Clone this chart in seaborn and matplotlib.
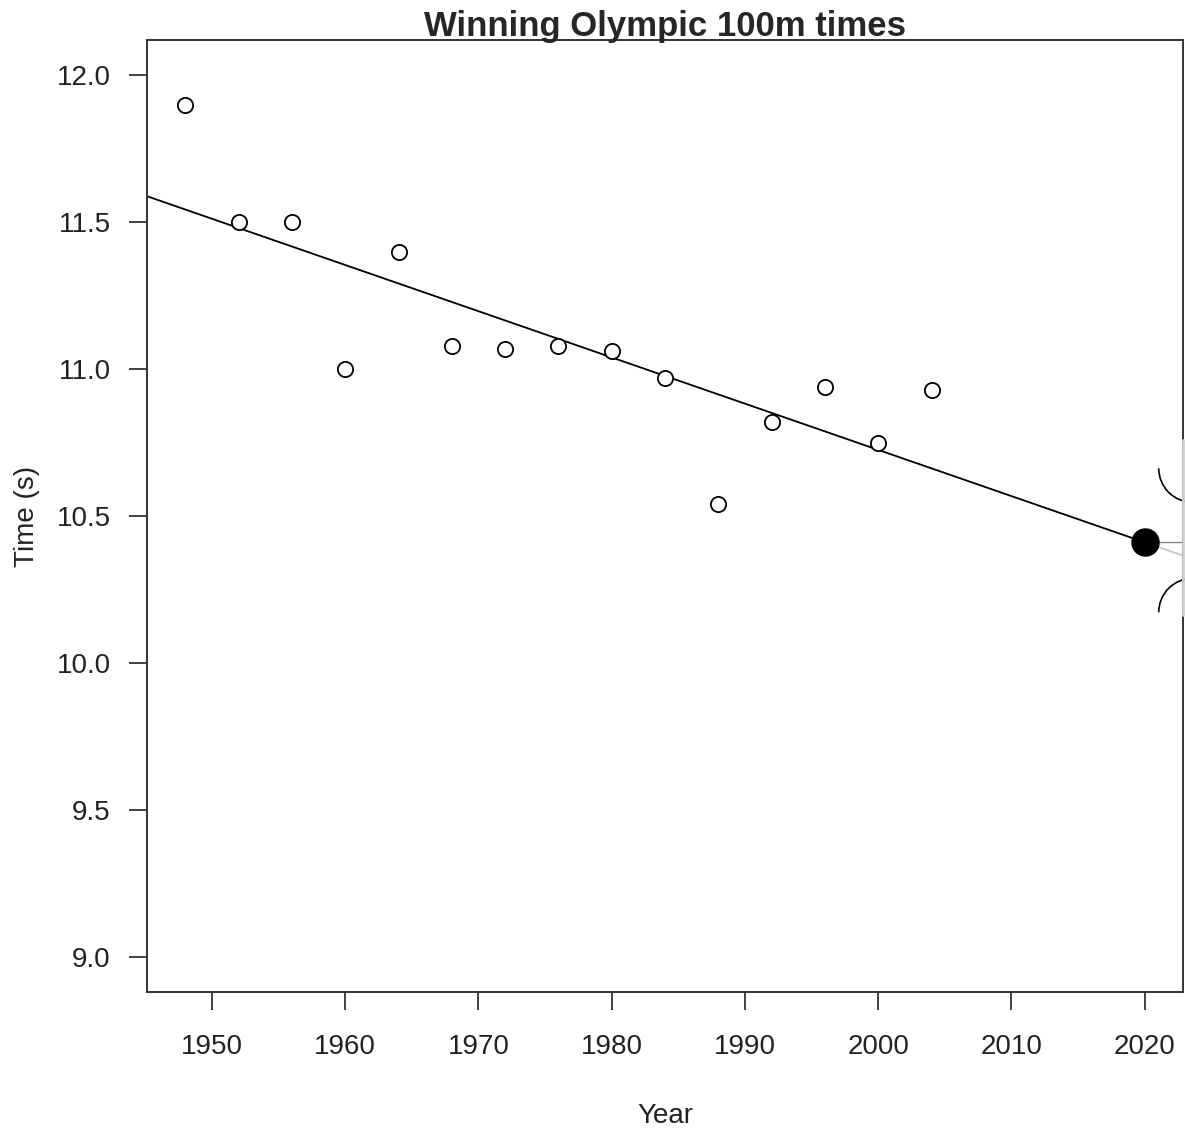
import numpy as np
import pandas as pd
import matplotlib
matplotlib.use('Agg')
import matplotlib.pyplot as plt
from matplotlib.patches import Arc
from matplotlib.transforms import IdentityTransform
import seaborn as sns

# winning times
years = [1948, 1952, 1956, 1960, 1964, 1968, 1972, 1976, 1980, 1984,
         1988, 1992, 1996, 2000, 2004]
times = [11.90, 11.50, 11.50, 11.00, 11.40, 11.08, 11.07, 11.08, 11.06, 10.97,
         10.54, 10.82, 10.94, 10.75, 10.93]
pred_year = 2020
x_ticks = [1950, 1960, 1970, 1980, 1990, 2000, 2010, 2020]
y_ticks = [9.0, 9.5, 10.0, 10.5, 11.0, 11.5, 12.0]

df = pd.DataFrame({'Year': years, 'Time': times})

sns.set_style('white')
plt.rcParams['font.family'] = ['Liberation Sans', 'DejaVu Sans']

fig = plt.figure(figsize=(11.85, 11.31), dpi=100)
ax = fig.add_axes([0.124, 0.1229, 0.8744, 0.8417])

# least squares fit and prediction for 2020
slope, intercept = np.polyfit(df['Year'], df['Time'], 1)
pred_time = slope * pred_year + intercept

xmin, xmax = 1945.12, 2022.88
ax.set_xlim(xmin, xmax)
ax.set_ylim(8.88, 12.12)

line_df = pd.DataFrame({'Year': [xmin, pred_year]})
line_df['Time'] = slope * line_df['Year'] + intercept
sns.lineplot(data=line_df, x='Year', y='Time', color='black', linewidth=1.3, ax=ax)
ext_df = pd.DataFrame({'Year': [pred_year, xmax]})
ext_df['Time'] = slope * ext_df['Year'] + intercept
sns.lineplot(data=ext_df, x='Year', y='Time', color='#c8c8c8', linewidth=1.3, ax=ax)
ax.plot([pred_year, xmax], [pred_time, pred_time], color='#888888', linewidth=1.0)

sns.scatterplot(data=df, x='Year', y='Time', s=120, facecolor='white',
                edgecolor='black', linewidth=1.3, ax=ax, zorder=3)
ax.scatter([pred_year], [pred_time], s=380, color='black', zorder=4)

ax.set_xticks(x_ticks)
ax.set_yticks(y_ticks)
ax.set_yticklabels([f'{v:.1f}' for v in y_ticks])
ax.tick_params(axis='both', direction='out', length=13, width=1.3,
               color='#333333', labelsize=20, labelcolor='#222222')
ax.tick_params(axis='x', pad=17, bottom=True)
ax.tick_params(axis='y', pad=13, left=True)

for sp in ax.spines.values():
    sp.set_color('#333333')
    sp.set_linewidth(1.4)
    sp.set_visible(True)

ax.set_title('Winning Olympic 100m times', fontsize=25, fontweight='bold', pad=3)
ax.set_xlabel('Year', fontsize=20, labelpad=31, color='#222222')
ax.set_ylabel('Time (s)', fontsize=20, labelpad=12, color='#222222')

# overlay near the right edge around the predicted point
fig.canvas.draw()
px, py = ax.transData.transform((pred_year, pred_time))
right_px = ax.transAxes.transform((1, 0))[0]
ax.add_line(plt.Line2D([right_px, right_px], [py - 73, py + 102], color='#d0d0d0',
                       linewidth=2, transform=IdentityTransform(), clip_on=False, zorder=5))
for dy, t1, t2 in [(74, 180, 270), (-70, 90, 180)]:
    arc = Arc((px + 48, py + dy), 68, 68, theta1=t1, theta2=t2, color='black',
              linewidth=1.2, transform=IdentityTransform(), clip_on=False)
    ax.add_patch(arc)

fig.savefig('out.png', dpi=100)
